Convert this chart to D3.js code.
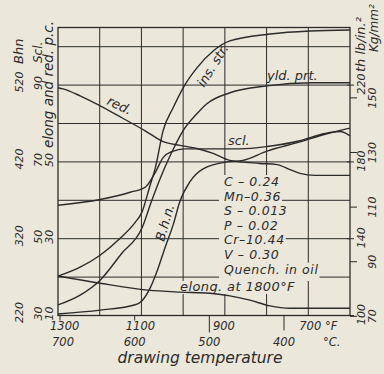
<!DOCTYPE html>
<html>
<head>
<meta charset="utf-8">
<script src="https://cdn.jsdelivr.net/npm/d3@7"></script>
<style>
body { margin: 0; background: #ebe7db; }
svg { display: block; }
text { font-family: "DejaVu Sans", sans-serif; font-style: italic; fill: #2b2b2b; }
</style>
</head>
<body>
<script>
// drawing temperature in deg F
const insStrTemps = [1300, 1247, 1199, 1151, 1115, 1099, 1079, 1067, 1048, 1024, 1000, 967, 928, 888, 792, 696, 600]
const insStr = [120.5, 125.2, 131.4, 140.2, 148.5, 153.7, 168, 176.6, 196.3, 208.2, 218.6, 229, 237.8, 243, 246.6, 248.2, 248.7]

const yldTemps = [1300, 1247, 1199, 1147, 1099, 1075, 1055, 1031, 1000, 967, 943, 888, 799, 689, 600]
const yldPrt = [105.5, 110.6, 118.4, 132.4, 145.4, 160, 171.4, 183.3, 196.3, 205.1, 210.3, 216, 219.6, 221.2, 221.2]

const bhnTemps = [1300, 1199, 1115, 1099, 1079, 1063, 1043, 1024, 1008, 984, 952, 895, 857, 799, 720, 660, 600]
const bhn = [222, 227, 234, 239, 256, 277, 309, 338, 368, 394, 411, 420, 422, 434, 446, 456, 464]

const sclTemps = [1300, 1199, 1127, 1091, 1067, 1048, 1027, 996, 936, 864, 799, 720, 660, 624, 600]
const scl = [58.7, 60.2, 62.1, 63.4, 67.2, 71.1, 72.7, 73.4, 73.4, 73.4, 74, 75.5, 77.4, 77.9, 76.8]

const redTemps = [1300, 1288, 1247, 1199, 1147, 1091, 1048, 1008, 967, 928, 888, 816, 775, 744, 720, 684, 600]
const red = [69.3, 69, 67.2, 64.6, 61.5, 58.1, 55.3, 54.3, 53.5, 52.2, 50.4, 49.6, 49.3, 48, 47, 46.5, 46.5]

const elongTemps = [1300, 1199, 1084, 1008, 936, 888, 840, 792, 744, 600]
const elong = [20.3, 18.4, 16.6, 16.1, 15.8, 15.1, 14, 12.5, 11.9, 11.9]

// axis ticks
const gridF = [1200, 1100, 1000, 900, 800, 700]
const gridTh = [120, 140, 160, 180, 200, 220, 240]
const fTicks = [1300, 1100, 900, 700]
const cTicks = [700, 600, 500, 400]
const bhnTicks = [220, 320, 420, 520]
const sclTicks = [30, 50, 70, 90]
const pcTicks = [10, 30, 50]
const thTicks = [100, 140, 180, 220]
const kgTicks = [70, 90, 110, 130, 150]

const chemistry = ["C \u2013 0.24", "Mn\u20130.36", "S \u2013 0.013", "P \u2013 0.02", "Cr\u201310.44", "V \u2013 0.30", "Quench. in oil"]

const WIDTH = 384
const HEIGHT = 374
const PLOT = { left: 58, right: 350, top: 27.5, bottom: 315.5 }
const INK = "#2b2b2b"
const BG = "#ebe7db"
const NOTE_TOP = 186
const NOTE_STEP = 14.6

const svg = d3.select("body")
    .append("svg")
    .attr("width", WIDTH)
    .attr("height", HEIGHT)

svg.append("rect")
    .attr("width", WIDTH)
    .attr("height", HEIGHT)
    .attr("fill", BG)

const x = d3.scaleLinear().domain([1300, 600]).range([PLOT.left, PLOT.right])
const xC = d3.scaleLinear().domain([700, 400]).range([60, 284])
const yTh = d3.scaleLinear().domain([100, 250]).range([PLOT.bottom, PLOT.top])
const yBhn = d3.scaleLinear().domain([220, 520]).range([PLOT.bottom, yTh(220)])
const yScl = d3.scaleLinear().domain([30, 90]).range([PLOT.bottom, yTh(220)])
const yPc = d3.scaleLinear().domain([10, 70]).range([PLOT.bottom, yTh(220)])
const yKg = d3.scaleLinear().domain([100 / 1.4223, 250 / 1.4223]).range([PLOT.bottom, PLOT.top])

// grid
const grid = svg.append("g").attr("stroke", INK).attr("stroke-width", 1)
grid.selectAll(".gv")
    .data(gridF)
    .enter()
    .append("line")
    .attr("x1", d => x(d)).attr("x2", d => x(d))
    .attr("y1", PLOT.top).attr("y2", PLOT.bottom)
grid.selectAll(".gh")
    .data(gridTh)
    .enter()
    .append("line")
    .attr("x1", PLOT.left).attr("x2", PLOT.right)
    .attr("y1", d => yTh(d)).attr("y2", d => yTh(d))
grid.append("rect")
    .attr("x", PLOT.left).attr("y", PLOT.top)
    .attr("width", PLOT.right - PLOT.left)
    .attr("height", PLOT.bottom - PLOT.top)
    .attr("fill", "none")
    .attr("stroke-width", 1.3)

// annotation block, grid cleared behind the lines of text
const note = svg.append("g")
const chemTexts = note.selectAll("text")
    .data(chemistry)
    .enter()
    .append("text")
    .attr("x", 224)
    .attr("y", (d, i) => NOTE_TOP + i * NOTE_STEP)
    .attr("font-size", 12.5)
    .attr("letter-spacing", 0.6)
    .text(d => d)
const elongNote = note.append("text")
    .attr("x", 180)
    .attr("y", 290.5)
    .attr("font-size", 13)
    .attr("letter-spacing", 0.4)
    .text("elong. at 1800\u00b0F")

const masks = svg.insert("g", () => note.node())
chemTexts.each(function (d, i) {
    const b = this.getBBox()
    const top = NOTE_TOP + i * NOTE_STEP - 11
    const bottom = i < chemistry.length - 1 ? top + NOTE_STEP : 281
    masks.append("rect")
        .attr("x", b.x - 5).attr("y", top)
        .attr("width", b.width + 6).attr("height", bottom - top)
        .attr("fill", BG)
})
const eb = elongNote.node().getBBox()
masks.append("rect")
    .attr("x", eb.x - 3).attr("y", 281)
    .attr("width", eb.width + 3).attr("height", 13)
    .attr("fill", BG)
svg.node().appendChild(note.node())

// curves
function curve(temps, vals, yScale) {
    const line = d3.line()
        .x(d => x(d[0]))
        .y(d => yScale(d[1]))
        .curve(d3.curveMonotoneX)
    svg.append("path")
        .attr("d", line(d3.zip(temps, vals)))
        .attr("fill", "none")
        .attr("stroke", INK)
        .attr("stroke-width", 1.4)
}
curve(insStrTemps, insStr, yTh)
curve(yldTemps, yldPrt, yTh)
curve(bhnTemps, bhn, yBhn)
curve(sclTemps, scl, yScl)
curve(redTemps, red, yPc)
curve(elongTemps, elong, yPc)

// curve labels
function label(px, py, angle, txt) {
    svg.append("text")
        .attr("transform", "translate(" + px + "," + py + ") rotate(" + angle + ")")
        .attr("font-size", 13)
        .text(txt)
}
label(204, 88, -58, "ins. str.")
label(267, 80, 0, "yld. prt.")
label(228, 145, 0, "scl.")
label(106, 104, 25, "red.")
label(164, 242, -74, "B.h.n.")

// left scales, rotated text in three columns
function vText(px, py, txt, anchor, size) {
    svg.append("text")
        .attr("transform", "translate(" + px + "," + py + ") rotate(-90)")
        .attr("text-anchor", anchor)
        .attr("font-size", size)
        .text(txt)
}
bhnTicks.forEach(v => vText(23, yBhn(v) - 3, v, "middle", 11))
sclTicks.forEach(v => vText(42, yScl(v) - 2, v, "middle", 11))
pcTicks.forEach(v => vText(53, yPc(v) - 2, v, "middle", 11))
vText(23, 64, "Bhn", "start", 13)
vText(42, 63, "Scl.", "start", 12)
vText(53, 148, "elong and red. p.c.", "start", 13.5)

// right scales
svg.selectAll(".tt")
    .data(thTicks)
    .enter()
    .append("line")
    .attr("x1", PLOT.right - 3).attr("x2", PLOT.right + 4)
    .attr("y1", d => yTh(d)).attr("y2", d => yTh(d))
    .attr("stroke", INK)
svg.selectAll(".kt")
    .data(kgTicks)
    .enter()
    .append("line")
    .attr("x1", PLOT.right).attr("x2", PLOT.right + 7)
    .attr("y1", d => yKg(d)).attr("y2", d => yKg(d))
    .attr("stroke", INK)
thTicks.forEach(v => vText(365, yTh(v) - 1, v, "middle", 11))
kgTicks.forEach(v => vText(376, yKg(v), v, "middle", 11))
vText(365, 72, "th lb/in.\u00b2", "start", 13)
vText(378, 52, "Kg/mm\u00b2", "start", 12)

// bottom scales
svg.selectAll(".ct")
    .data(cTicks)
    .enter()
    .append("line")
    .attr("x1", d => xC(d)).attr("x2", d => xC(d))
    .attr("y1", PLOT.bottom)
    .attr("y2", d => PLOT.bottom + (d === 500 ? 17 : d === 400 ? 15 : 5))
    .attr("stroke", INK)

svg.selectAll(".fl")
    .data(fTicks)
    .enter()
    .append("text")
    .attr("x", d => d === 1300 ? x(d) - 8 : d === 700 ? x(d) - 9 : x(d) - 1)
    .attr("y", 329.5)
    .attr("font-size", 11.5)
    .attr("text-anchor", d => d === 1300 || d === 700 ? "start" : "middle")
    .text(d => d === 700 ? d + " \u00b0F" : d)

svg.selectAll(".cl")
    .data(cTicks)
    .enter()
    .append("text")
    .attr("x", d => d === 700 ? xC(d) - 8 : xC(d))
    .attr("y", 345.5)
    .attr("font-size", 11.5)
    .attr("text-anchor", d => d === 700 ? "start" : "middle")
    .text(d => d)
svg.append("text")
    .attr("x", xC(400) + 39)
    .attr("y", 345.5)
    .attr("font-size", 11.5)
    .text("\u00b0C.")

svg.append("text")
    .attr("x", 200)
    .attr("y", 363)
    .attr("font-size", 15.5)
    .attr("text-anchor", "middle")
    .text("drawing temperature")
</script>
</body>
</html>
